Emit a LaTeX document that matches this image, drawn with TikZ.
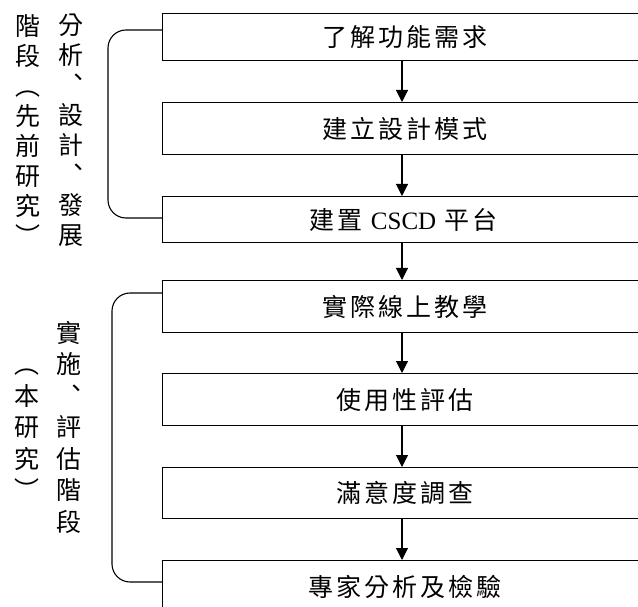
\documentclass[tikz,border=0pt]{standalone}
\usepackage{fontspec}
\setmainfont{Liberation Serif}
\newfontfamily\cjk{Noto Sans CJK TC}
\newfontfamily\cjksp[LetterSpace=12]{Noto Sans CJK TC}
\usetikzlibrary{arrows.meta}
\tikzset{
  stepbox/.style={draw=black, line width=1.3pt, minimum height=#1, inner sep=0pt, anchor=north west, minimum width=490pt, font=\cjksp\fontsize{25}{28}\selectfont},
  flow/.style={draw=black, line width=1.1pt, -{Triangle[width=12pt,length=12pt]}},
  brace/.style={draw=black, line width=1.1pt, rounded corners=18pt},
  vtext/.style={font=\cjk\fontsize{25}{30}\selectfont, align=center, inner sep=0pt, anchor=north},
  vtextw/.style={font=\cjk\fontsize{25}{31.5}\selectfont, align=center, inner sep=0pt, anchor=north}
}
\begin{document}
\begin{tikzpicture}[x=1pt,y=-1pt]
\useasboundingbox (0,0) rectangle (638,607);
\clip (0,0) rectangle (638,607);
\node[stepbox=47pt] (b1) at (162,13) {\hspace*{-6pt}了解功能需求};
\node[stepbox=52pt] (b2) at (162,102) {\hspace*{-6pt}建立設計模式};
\node[stepbox=46pt] (b3) at (162,196) {\hspace*{-8pt}{\cjk 建\hspace{3pt}置}\hspace{8pt}{\rmfamily\fontsize{25}{28}\selectfont CSCD}\hspace{8pt}{\cjk 平\hspace{3pt}台}};
\node[stepbox=52pt] (b4) at (162,280) {\hspace*{-6pt}實際線上教學};
\node[stepbox=52pt] (b5) at (162,373) {\hspace*{-6pt}使用性評估};
\node[stepbox=51pt] (b6) at (162,467) {\hspace*{-6pt}滿意度調查};
\node[stepbox=52pt] (b7) at (162,560) {\hspace*{-6pt}專家分析及檢驗};
\foreach \a/\b in {b1/b2,b2/b3,b3/b4,b4/b5,b5/b6,b6/b7}{
  \draw[flow] (\a.south -| 402,0) -- (\b.north -| 402,0);
}
\coordinate (u1) at (b1.west |- 0,30);
\coordinate (u2) at (b3.west |- 0,218);
\draw[brace] (u1) -- (108,30) -- (108,218) -- (u2);
\coordinate (l1) at (b4.west |- 0,293);
\coordinate (l2) at (b7.west |- 0,582);
\draw[brace] (l1) -- (112,293) -- (112,582) -- (l2);
\node[vtext] (t1) at (71,14) {分\\析\\︑\\設\\計\\︑\\發\\展};
\node[vtext] (t2) at (28,14) {階\\段\\︵\\先\\前\\研\\究\\︶};
\node[vtextw] (t3) at (69,321) {實\\施\\︑\\評\\估\\階\\段};
\node[vtextw] (t4) at (27,369) {︵\\本\\研\\究\\︶};
\end{tikzpicture}
\end{document}
